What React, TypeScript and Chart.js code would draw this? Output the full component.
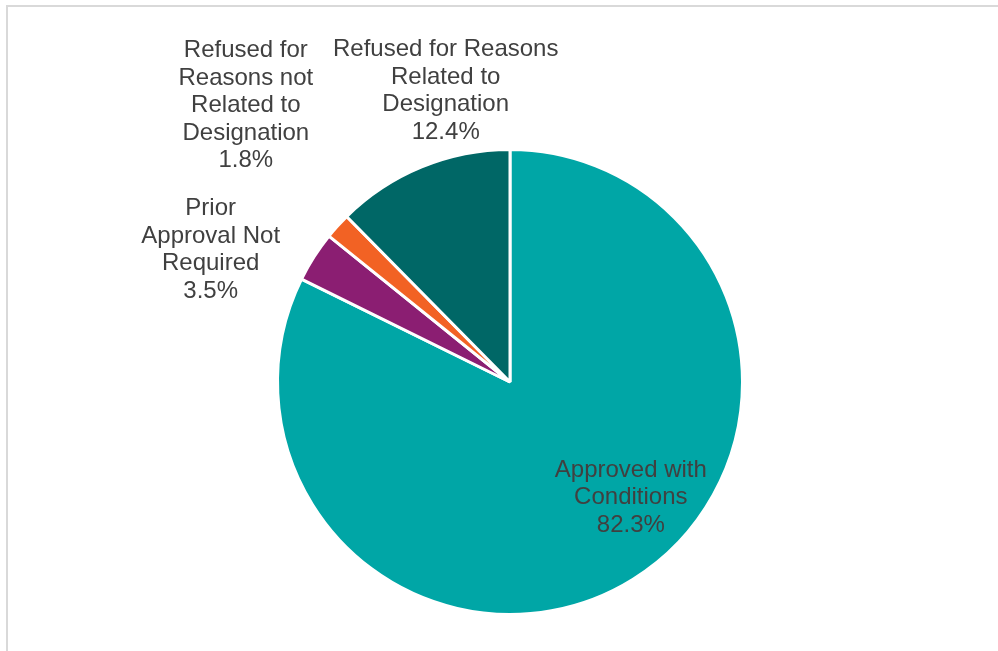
import React, { useEffect, useRef } from "react";
import { Chart, registerables } from "chart.js";

Chart.register(...registerables);

const categories = [
  "Approved with Conditions",
  "Prior Approval Not Required",
  "Refused for Reasons not Related to Designation",
  "Refused for Reasons Related to Designation",
];
const labelLines = [
  ["Approved with", "Conditions"],
  ["Prior", "Approval Not", "Required"],
  ["Refused for", "Reasons not", "Related to", "Designation"],
  ["Refused for Reasons", "Related to", "Designation"],
];
const values = [82.3, 3.5, 1.8, 12.4];
const colors = ["#00A6A6", "#8B1E72", "#F26224", "#006766"];

// label anchor: angle (deg, clockwise from top) and radius factor
const labelAnchors = [
  { angle: 133.8, factor: 0.72 },
  { angle: 293.8, factor: 1.407 },
  { angle: 316.28, factor: 1.644 },
  { angle: 347.55, factor: 1.283 },
];

const labelPlugin = {
  id: "pieLabels",
  afterDatasetsDraw(chart: any) {
    const meta = chart.getDatasetMeta(0);
    const ctx = chart.ctx;
    ctx.save();
    ctx.font = "24px 'Liberation Sans', Arial, sans-serif";
    ctx.fillStyle = "#404040";
    ctx.textAlign = "center";
    ctx.textBaseline = "middle";
    const lh = 27.5;
    meta.data.forEach((arc: any, i: number) => {
      const { x, y, outerRadius } = arc.getProps(["x", "y", "outerRadius"], true);
      const a = (labelAnchors[i].angle * Math.PI) / 180;
      const cx = x + Math.sin(a) * outerRadius * labelAnchors[i].factor;
      const cy = y - Math.cos(a) * outerRadius * labelAnchors[i].factor;
      const lines = [...labelLines[i], values[i].toFixed(1) + "%"];
      const startY = cy - ((lines.length - 1) * lh) / 2;
      lines.forEach((t, j) => ctx.fillText(t, cx, startY + j * lh));
    });
    ctx.restore();
  },
};

export default function App() {
  const ref = useRef<HTMLCanvasElement>(null);
  useEffect(() => {
    const chart = new Chart(ref.current!, {
      type: "pie",
      data: {
        labels: categories,
        datasets: [
          {
            data: values,
            backgroundColor: colors,
            borderColor: "#ffffff",
            borderWidth: 3,
          },
        ],
      },
      options: {
        responsive: false,
        animation: false,
        layout: { padding: { left: 275, right: 253, top: 148, bottom: 35 } },
        plugins: { legend: { display: false }, tooltip: { enabled: false } },
      },
      plugins: [labelPlugin],
    });
    return () => chart.destroy();
  }, []);
  return (
    <div
      style={{
        position: "fixed",
        left: 0,
        top: 0,
        width: 998,
        height: 651,
        overflow: "hidden",
        background: "#ffffff",
      }}
    >
      <div
        style={{
          position: "absolute",
          left: 6,
          top: 5,
          width: 1200,
          height: 900,
          border: "2px solid #d9d9d9",
        }}
      />
      <canvas
        ref={ref}
        width={998}
        height={651}
        style={{ position: "absolute", left: 0, top: 0, width: 998, height: 651 }}
      />
    </div>
  );
}
